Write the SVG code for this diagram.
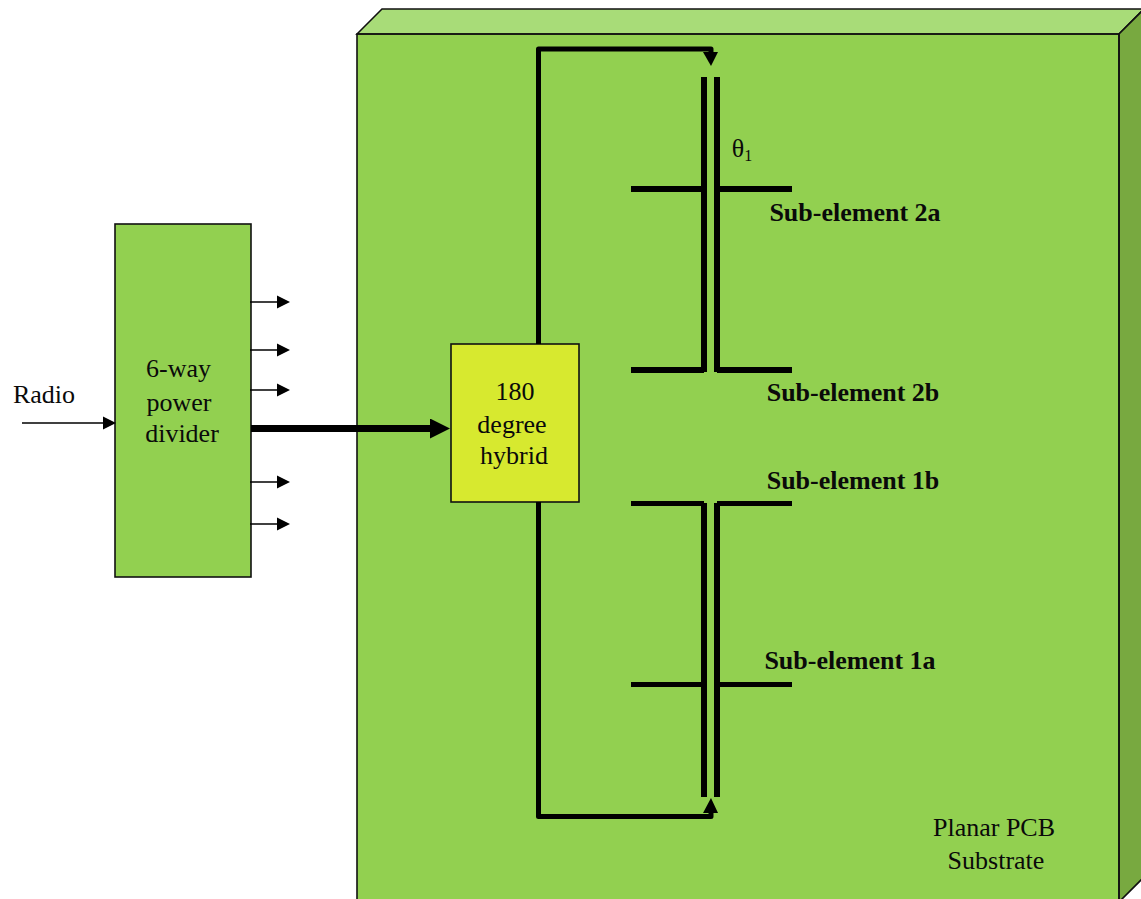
<svg xmlns="http://www.w3.org/2000/svg" width="1141" height="899" viewBox="0 0 1141 899">
<style>
text{font-family:"Liberation Serif","Times New Roman",serif;fill:#0a0a0a;font-size:26px;text-anchor:middle}
.b{font-weight:bold}
.box{stroke:#111;stroke-width:1.6}
.w{fill:none;stroke:#000;stroke-linejoin:round}
.bar{stroke:#000;stroke-width:6;fill:none}
.thin{stroke:#000;stroke-width:1.5;fill:none}
</style>
<defs>
<marker id="sm" markerUnits="userSpaceOnUse" markerWidth="14" markerHeight="14" refX="3" refY="7" orient="auto"><path d="M0 0.5L13 7L0 13.5Z" fill="#000"/></marker>
<marker id="lg" markerUnits="userSpaceOnUse" markerWidth="20" markerHeight="20" refX="5" refY="10" orient="auto"><path d="M0 0L20 10L0 20Z" fill="#000"/></marker>
</defs>
<rect width="1141" height="899" fill="#fff"/>
<g id="substrate">
<path d="M357 34L382 9H1144V877L1119 902H357Z" fill="#92d050"/>
<path d="M357 34L382 9H1144L1119 34Z" fill="#a8dc78" class="box"/>
<path d="M1119 34L1144 9V877L1119 902Z" fill="#78a940" class="box"/>
<path d="M357 902V34H1119V902" fill="none" class="box"/>
<text x="994" y="836">Planar PCB</text>
<text x="996" y="869">Substrate</text>
</g>
<g id="divider">
<rect x="115" y="224" width="136" height="353" fill="#92d050" class="box"/>
<text x="178.500" y="377">6-way</text>
<text x="179" y="411">power</text>
<text x="182" y="442">divider</text>
</g>
<g id="hybrid">
<rect x="451" y="344" width="128" height="158" fill="#d7e92f" class="box"/>
<text x="515" y="400">180</text>
<text x="512" y="433">degree</text>
<text x="514" y="464">hybrid</text>
</g>
<g id="radio-label"><text x="44" y="403">Radio</text></g>
<g id="element-2">
<path class="bar" d="M704 77V372M717 77V372M631 189H702M719 189H792M631 370H704M717 370H792"/>
<text x="742" y="157">θ<tspan font-size="16" dy="4">1</tspan></text>
<text class="b" x="855" y="221">Sub-element 2a</text>
<text class="b" x="853" y="401">Sub-element 2b</text>
</g>
<g id="element-1">
<path class="bar" d="M704 503V797M717 503V797"/>
<path class="bar" style="stroke-width:5" d="M631 503.500H704M717 503.500H792M631 684.500H702M719 684.500H792"/>
<text class="b" x="853" y="489">Sub-element 1b</text>
<text class="b" x="850" y="669">Sub-element 1a</text>
</g>
<g id="connectors">
<path class="thin" d="M22 423H106" marker-end="url(#sm)"/>
<path class="thin" d="M250 302H280" marker-end="url(#sm)"/>
<path class="thin" d="M250 350H280" marker-end="url(#sm)"/>
<path class="thin" d="M250 390H280" marker-end="url(#sm)"/>
<path class="thin" d="M250 482H280" marker-end="url(#sm)"/>
<path class="thin" d="M250 524H280" marker-end="url(#sm)"/>
<path d="M251 428.500H435" stroke="#000" stroke-width="7" fill="none" marker-end="url(#lg)"/>
<path class="w" stroke-width="5" d="M538.500 344V49H711V54"/>
<path d="M703 52H718L711 66Z" fill="#000"/>
<path class="w" stroke-width="5" d="M538.500 502V816.500H711V811"/>
<path d="M703 813H718L711 798Z" fill="#000"/>
</g>
</svg>
